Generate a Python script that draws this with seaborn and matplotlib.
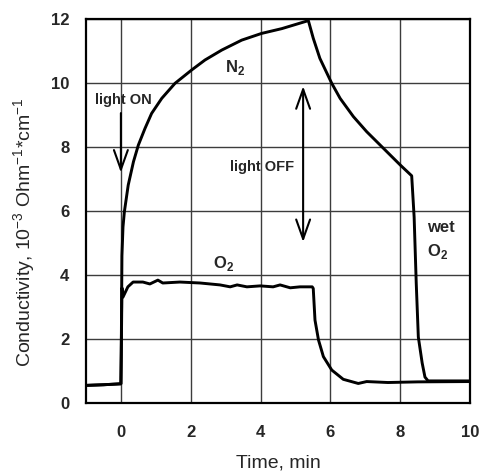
import matplotlib
matplotlib.use("Agg")
import matplotlib.pyplot as plt
import pandas as pd
import seaborn as sns

# Conductivity transients under illumination (time in min, 10^-3 Ohm^-1 cm^-1)
n2_time = [-1.0, -0.5, 0.0, 0.01, 0.02, 0.03, 0.06, 0.1, 0.21, 0.36, 0.5, 0.69,
           0.88, 1.17, 1.55, 2.03, 2.41, 2.89, 3.46, 4.03, 4.61, 5.37, 5.51, 5.7,
           6.04, 6.28, 6.66, 7.04, 7.52, 8.0, 8.33, 8.4, 8.46, 8.52, 8.63, 8.71,
           8.8, 10.0]
n2_cond = [0.55, 0.57, 0.6, 1.5, 3.0, 4.6, 5.5, 5.98, 6.81, 7.54, 8.06, 8.58,
           9.05, 9.52, 9.99, 10.41, 10.72, 11.03, 11.34, 11.55, 11.7, 11.95, 11.4, 10.77,
           9.99, 9.52, 8.95, 8.48, 7.96, 7.44, 7.1, 5.81, 3.75, 2.06, 1.25, 0.81,
           0.69, 0.69]

o2_time = [-1.0, -0.5, 0.0, 0.02, 0.03, 0.06, 0.2, 0.35, 0.63, 0.83, 1.06, 1.2,
           1.69, 2.27, 2.84, 3.13, 3.33, 3.61, 3.99, 4.36, 4.56, 4.85, 5.13, 5.48,
           5.51, 5.56, 5.66, 5.8, 6.04, 6.37, 6.8, 7.04, 7.65, 8.5, 10.0]
o2_cond = [0.55, 0.57, 0.6, 2.5, 3.6, 3.31, 3.63, 3.78, 3.78, 3.72, 3.84, 3.75,
           3.78, 3.75, 3.69, 3.63, 3.69, 3.63, 3.66, 3.63, 3.69, 3.6, 3.63, 3.63,
           3.58, 2.59, 1.97, 1.45, 1.03, 0.74, 0.61, 0.67, 0.64, 0.66, 0.67]

x_ticks = [0, 2, 4, 6, 8, 10]
y_ticks = [0, 2, 4, 6, 8, 10, 12]

sns.set_style("white")
plt.rcParams["font.family"] = ["Liberation Sans", "DejaVu Sans"]
plt.rcParams["mathtext.fontset"] = "custom"
plt.rcParams["mathtext.rm"] = "Liberation Sans"
plt.rcParams["mathtext.bf"] = "Liberation Sans:bold"

df = pd.concat([
    pd.DataFrame({"time": n2_time, "cond": n2_cond, "gas": "N2"}),
    pd.DataFrame({"time": o2_time, "cond": o2_cond, "gas": "O2"}),
], ignore_index=True)

fig = plt.figure(figsize=(4.79, 4.72), dpi=100)
ax = fig.add_axes([0.1795, 0.1462, 0.8017, 0.8135])

ax.grid(True, color="#3c3c3c", lw=1.0)
ax.set_axisbelow(True)

sns.lineplot(data=df, x="time", y="cond", units="gas", estimator=None,
             sort=False, color="black", lw=2.1, ax=ax, legend=False)

ax.set_xlim(-1, 10)
ax.set_ylim(0, 12)
ax.set_xticks(x_ticks)
ax.set_yticks(y_ticks)
for lab in ax.get_xticklabels() + ax.get_yticklabels():
    lab.set_fontweight("bold")
ax.tick_params(axis="both", direction="out", length=4, width=1.2,
               labelsize=12, color="black", pad=8)
ax.tick_params(axis="x", pad=12)
for sp in ax.spines.values():
    sp.set_color("black")
    sp.set_linewidth(1.6)

ax.set_xlabel("Time, min", fontsize=14, labelpad=10)
ax.set_ylabel(r"Conductivity, 10$^{-3}$ Ohm$^{-1}$*cm$^{-1}$", fontsize=14)
ax.yaxis.set_label_coords(-0.125, 0.445)

# curve labels
ax.text(3.27, 10.5, r"N$_\mathbf{2}$", fontsize=12, fontweight="bold",
        ha="center", va="center")
ax.text(2.93, 4.37, r"O$_\mathbf{2}$", fontsize=12, fontweight="bold",
        ha="center", va="center")
ax.text(8.77, 5.47, "wet", fontsize=12, fontweight="bold", ha="left", va="center")
ax.text(8.77, 4.72, r"O$_\mathbf{2}$", fontsize=12, fontweight="bold",
        ha="left", va="center")

# light switching marks
ax.text(0.06, 9.47, "light ON", fontsize=10.5, fontweight="bold",
        ha="center", va="center")
ax.annotate("", xy=(0, 7.2), xytext=(0, 9.06),
            arrowprops=dict(arrowstyle="->,head_length=1.4,head_width=0.5",
                            lw=1.5, color="black", shrinkA=0, shrinkB=0,
                            mutation_scale=10))
ax.text(4.04, 7.37, "light OFF", fontsize=10.5, fontweight="bold",
        ha="center", va="center")
ax.annotate("", xy=(5.22, 5.03), xytext=(5.22, 9.9),
            arrowprops=dict(arrowstyle="<->,head_length=1.4,head_width=0.5",
                            lw=1.5, color="black", shrinkA=0, shrinkB=0,
                            mutation_scale=10))

fig.savefig("out.png", dpi=100)
